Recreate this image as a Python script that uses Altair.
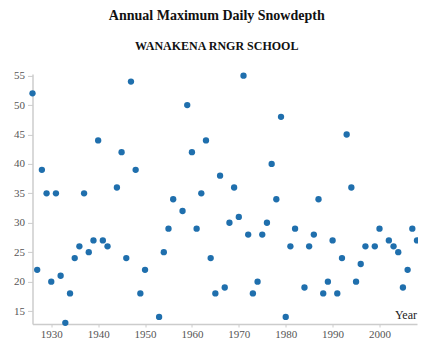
import altair as alt
import pandas as pd

years = [1926, 1927, 1928, 1929, 1930, 1931, 1932, 1933, 1934, 1935, 1936, 1937,
         1938, 1939, 1940, 1941, 1942, 1944, 1945, 1946, 1947, 1948, 1949, 1950,
         1953, 1954, 1955, 1956, 1958, 1959, 1960, 1961, 1962, 1963, 1964, 1965,
         1966, 1967, 1968, 1969, 1970, 1971, 1972, 1973, 1974, 1975, 1976, 1977,
         1978, 1979, 1980, 1981, 1982, 1984, 1985, 1986, 1987, 1988, 1989, 1990,
         1991, 1992, 1993, 1994, 1995, 1996, 1997, 1999, 2000, 2002, 2003, 2004,
         2005, 2006, 2007, 2008]
depths = [52, 22, 39, 35, 20, 35, 21, 13, 18, 24, 26, 35,
          25, 27, 44, 27, 26, 36, 42, 24, 54, 39, 18, 22,
          14, 25, 29, 34, 32, 50, 42, 29, 35, 44, 24, 18,
          38, 19, 30, 36, 31, 55, 28, 18, 20, 28, 30, 40,
          34, 48, 14, 26, 29, 19, 26, 28, 34, 18, 20, 27,
          18, 24, 45, 36, 20, 23, 26, 26, 29, 27, 26, 25,
          19, 22, 29, 27]
x_ticks = [1930, 1940, 1950, 1960, 1970, 1980, 1990, 2000]
y_ticks = [15, 20, 25, 30, 35, 40, 45, 50, 55]

df = pd.DataFrame({"Year": years, "Snowdepth": depths})

serif = "Liberation Serif"

chart = alt.Chart(df).mark_circle(size=40, color="#1f6fad", opacity=1).encode(
    x=alt.X("Year:Q",
            scale=alt.Scale(domain=[1926, 2008], nice=False, zero=False),
            axis=alt.Axis(values=x_ticks, format="d", title="Year",
                          titleX=384, titleY=-6, titleAlign="right",
                          titleBaseline="alphabetic", titleFont=serif,
                          titleFontSize=12, titleFontWeight="normal",
                          titleColor="#222", labelFont=serif, labelFontSize=11,
                          labelColor="#555", domainColor="#ccc", domainWidth=1.5,
                          tickColor="#ccc", tickSize=3, labelPadding=1,
                          grid=False)),
    y=alt.Y("Snowdepth:Q",
            scale=alt.Scale(domain=[12.8, 55.3], nice=False, zero=False),
            axis=alt.Axis(values=y_ticks, title=None, labelFont=serif,
                          labelFontSize=11, labelColor="#555", domainColor="#ccc",
                          domainWidth=1.5, tickColor="#ccc", tickSize=5,
                          labelPadding=3, grid=False)),
).properties(
    width=384.5,
    height=250.1,
    autosize=alt.AutoSizeParams(type="none"),
    padding={"left": 24.5, "top": 65.9, "right": 1, "bottom": 17.5},
    title=alt.TitleParams(
        text="Annual Maximum Daily Snowdepth",
        subtitle="WANAKENA RNGR SCHOOL",
        font=serif, fontSize=14, fontWeight="bold", color="#111",
        subtitleFont=serif, subtitleFontSize=12, subtitleFontWeight="bold",
        subtitleColor="#111", anchor="middle", dx=-8, offset=18,
        subtitlePadding=18,
    ),
).configure_view(stroke=None)

chart.save("out.html", embed_options={"renderer": "svg", "actions": False})
